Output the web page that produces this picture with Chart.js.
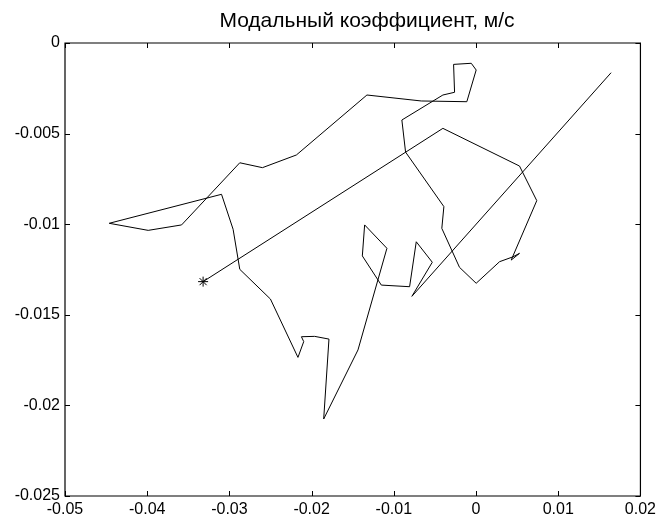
<!DOCTYPE html>
<html><head><meta charset="utf-8">
<script src="https://cdn.jsdelivr.net/npm/chart.js@4/dist/chart.umd.min.js"></script>
<style>html,body{margin:0;padding:0;background:#fff;} #wrap{width:660px;height:522px;}</style>
</head><body><div id="wrap"><canvas id="c" width="660" height="522"></canvas></div>
<script>
const titleText = 'Модальный коэффициент, м/с';
const xValues = [-0.03320,-0.00403,0.00529,0.00739,0.00428,0.00529,0.00444,0.00286,0.00002,-0.00201,
  -0.00416,-0.00391,-0.00857,-0.00902,-0.00403,-0.00261,-0.00273,-0.00058,0.00002,-0.00112,
  -0.00666,-0.01327,-0.02185,-0.02598,-0.02874,-0.03582,-0.03988,-0.04462,-0.03096,-0.02955,
  -0.02874,-0.02501,-0.02166,-0.02096,-0.02124,-0.01963,-0.01789,-0.01853,-0.01436,-0.01084,
  -0.01355,-0.01383,-0.01152,-0.00808,-0.00727,-0.00532,-0.00780,0.01643];
const yValues = [-0.01317,-0.00471,-0.00679,-0.00870,-0.01198,-0.01161,-0.01181,-0.01207,-0.01326,-0.01238,
  -0.01023,-0.00903,-0.00602,-0.00425,-0.00287,-0.00272,-0.00118,-0.00112,-0.00149,-0.00324,
  -0.00320,-0.00287,-0.00618,-0.00688,-0.00661,-0.01004,-0.01034,-0.00995,-0.00835,-0.01028,
  -0.01249,-0.01413,-0.01735,-0.01648,-0.01621,-0.01619,-0.01634,-0.02075,-0.01694,-0.01133,
  -0.01004,-0.01175,-0.01336,-0.01345,-0.01097,-0.01210,-0.01398,-0.00164];
const xTickValues = [-0.05,-0.04,-0.03,-0.02,-0.01,0,0.01,0.02];
const xTickLabels = ['-0.05','-0.04','-0.03','-0.02','-0.01','0','0.01','0.02'];
const yTickValues = [-0.025,-0.02,-0.015,-0.01,-0.005,0];
const yTickLabels = ['-0.025','-0.02','-0.015','-0.01','-0.005','0'];

const FONT = "'Liberation Sans', Arial, sans-serif";
Chart.defaults.font.family = FONT;
Chart.defaults.color = '#000';

const points = xValues.map((x, i) => ({x: x, y: yValues[i]}));

const boxPlugin = {
  id: 'box',
  afterDraw(chart) {
    const ctx = chart.ctx, a = chart.chartArea;
    const xs = chart.scales.x, ys = chart.scales.y;
    ctx.save();
    ctx.strokeStyle = '#000';
    ctx.lineWidth = 1.2;
    ctx.beginPath();
    ctx.rect(a.left, a.top, a.right - a.left, a.bottom - a.top);
    ctx.stroke();
    ctx.lineWidth = 1;
    const L = 5;
    ctx.beginPath();
    xTickValues.forEach(v => {
      const p = Math.round(xs.getPixelForValue(v)) + 0.5;
      ctx.moveTo(p, a.bottom); ctx.lineTo(p, a.bottom - L);
      ctx.moveTo(p, a.top); ctx.lineTo(p, a.top + L);
    });
    yTickValues.forEach(v => {
      const p = Math.round(ys.getPixelForValue(v)) + 0.5;
      ctx.moveTo(a.left, p); ctx.lineTo(a.left + L, p);
      ctx.moveTo(a.right, p); ctx.lineTo(a.right - L, p);
    });
    ctx.stroke();
    ctx.fillStyle = '#000';
    ctx.font = '21px ' + FONT;
    ctx.textAlign = 'center';
    ctx.textBaseline = 'middle';
    ctx.fillText(titleText, 367, 21);
    ctx.restore();
  }
};

new Chart(document.getElementById('c'), {
  type: 'scatter',
  data: {
    datasets: [{
      data: points,
      showLine: true,
      borderColor: '#000',
      backgroundColor: '#000',
      borderWidth: 1,
      tension: 0,
      pointStyle: 'star',
      pointRadius: ctx => ctx.dataIndex === 0 ? 5 : 0,
      pointHoverRadius: 0,
      pointBorderColor: '#000',
      pointBorderWidth: 1
    }]
  },
  options: {
    responsive: false,
    animation: false,
    devicePixelRatio: 1,
    layout: {padding: {top: 43, right: 19, left: 0, bottom: 0}},
    plugins: {legend: {display: false}, tooltip: {enabled: false}, title: {display: false}},
    scales: {
      x: {
        type: 'linear', min: -0.05, max: 0.02,
        grid: {display: false, drawTicks: false},
        border: {display: false},
        afterBuildTicks: s => { s.ticks = xTickValues.map(v => ({value: v})); },
        afterFit: s => { s.height = 26; },
        ticks: {
          padding: 4, maxRotation: 0, autoSkip: false,
          font: {size: 16},
          callback: v => xTickLabels[xTickValues.indexOf(v)]
        }
      },
      y: {
        type: 'linear', min: -0.025, max: 0,
        grid: {display: false, drawTicks: false},
        border: {display: false},
        afterBuildTicks: s => { s.ticks = yTickValues.map(v => ({value: v})); },
        afterFit: s => { s.width = 65; },
        ticks: {
          padding: 5, autoSkip: false,
          font: {size: 16},
          callback: v => yTickLabels[yTickValues.indexOf(v)]
        }
      }
    }
  },
  plugins: [boxPlugin]
});
</script>
</body></html>
